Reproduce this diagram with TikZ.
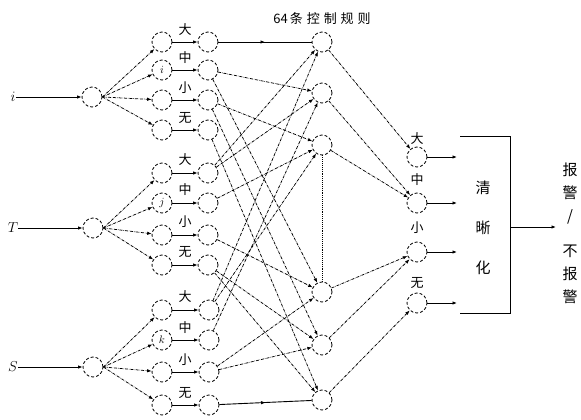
\documentclass[tikz,border=0pt]{standalone}
\usepackage{fontspec}
\newfontfamily\cjk{Noto Sans CJK SC}
\newfontfamily\cjkt{Noto Sans CJK SC}[LetterSpace=30]
\usetikzlibrary{arrows.meta,decorations.markings}
\begin{document}
\begin{tikzpicture}[x=1pt,y=-1pt,
  neuron/.style={circle,draw,densely dashed,minimum size=20pt,inner sep=0pt,line width=0.8pt,font=\fontsize{11}{11}\selectfont},
  conn/.style={densely dash dot,line width=0.75pt,-{Latex[length=4.5pt,width=3.5pt]}},
  solidarr/.style={line width=0.9pt,-{Latex[length=4.5pt,width=3.5pt]}},
  midarrow/.style={line width=0.9pt,postaction={decorate},decoration={markings,mark=at position 0.5 with {\arrow{Latex[length=4.5pt,width=3.5pt]}}}},
  lab/.style={font=\cjk\fontsize{13}{13}\selectfont,inner sep=0pt},
  inlab/.style={font=\fontsize{14}{14}\selectfont,inner sep=0pt},
]
\useasboundingbox (0,0) rectangle (581,420);

% input labels and neurons
\node[inlab] (li) at (13,97) {$i$};
\node[inlab] (lT) at (13,228) {$T$};
\node[inlab] (lS) at (13,367) {$S$};
\node[neuron] (ii) at (92,97) {};
\node[neuron] (iT) at (93,228) {};
\node[neuron] (iS) at (93,367) {};
\draw[solidarr] (li) -- (ii);
\draw[solidarr] (lT) -- (iT);
\draw[solidarr] (lS) -- (iS);

% fuzzification layer
\node[neuron] (a1) at (162,42) {};
\node[neuron] (a2) at (162,70) {$i$};
\node[neuron] (a3) at (162,100) {};
\node[neuron] (a4) at (162,130) {};
\node[neuron] (a5) at (162,173) {};
\node[neuron] (a6) at (162,203) {$j$};
\node[neuron] (a7) at (162,235) {};
\node[neuron] (a8) at (162,265) {};
\node[neuron] (a9) at (162,310) {};
\node[neuron] (a10) at (162,340) {$k$};
\node[neuron] (a11) at (162,372) {};
\node[neuron] (a12) at (162,405) {};
\node[neuron] (b1) at (208,42) {};
\node[neuron] (b2) at (208,70) {};
\node[neuron] (b3) at (208,100) {};
\node[neuron] (b4) at (208,130) {};
\node[neuron] (b5) at (208,173) {};
\node[neuron] (b6) at (208,203) {};
\node[neuron] (b7) at (208,235) {};
\node[neuron] (b8) at (208,265) {};
\node[neuron] (b9) at (209,310) {};
\node[neuron] (b10) at (209,340) {};
\node[neuron] (b11) at (209,372) {};
\node[neuron] (b12) at (209,405) {};

\node[lab] (t1) at (185,30) {大};
\node[lab] (t2) at (185,58) {中};
\node[lab] (t3) at (185,88) {小};
\node[lab] (t4) at (185,118) {无};
\node[lab] (t5) at (185,160) {大};
\node[lab] (t6) at (185,190) {中};
\node[lab] (t7) at (185,222) {小};
\node[lab] (t8) at (185,252) {无};
\node[lab] (t9) at (185,297) {大};
\node[lab] (t10) at (185,328) {中};
\node[lab] (t11) at (185,360) {小};
\node[lab] (t12) at (185,393) {无};

\foreach \k in {1,...,4} \draw[conn] (ii.east) -- (a\k);
\foreach \k in {5,...,8} \draw[conn] (iT.east) -- (a\k);
\foreach \k in {9,...,12} \draw[conn] (iS.east) -- (a\k);
\foreach \k in {1,...,12} \draw[solidarr] (a\k) -- (b\k);

% rule layer
\node[neuron] (r1) at (322,42) {};
\node[neuron] (r2) at (322,93) {};
\node[neuron] (r3) at (322,145) {};
\node[neuron] (r4) at (322,292) {};
\node[neuron] (r5) at (322,345) {};
\node[neuron] (r6) at (322,400) {};
\node[font=\fontsize{13}{13}\selectfont,inner sep=0pt] (title) at (322,19) {{\cjk 64}\,{\cjkt 条控制规则}};

\draw[midarrow] (b1) -- (r1);
\draw[midarrow] (b12) -- (r6);
\draw[conn] (b5) -- (r1);
\draw[conn] (b9) -- (r1);
\draw[conn] (b2) -- (r2);
\draw[conn] (b5) -- (r2);
\draw[conn] (b10) -- (r2);
\draw[conn] (b3) -- (r3);
\draw[conn] (b6) -- (r3);
\draw[conn] (b9) -- (r3);
\draw[conn] (b2) -- (r4);
\draw[conn] (b7) -- (r4);
\draw[conn] (b11) -- (r4);
\draw[conn] (b3) -- (r5);
\draw[conn] (b8) -- (r5);
\draw[conn] (b11) -- (r5);
\draw[conn] (b4) -- (r6);
\draw[conn] (b8) -- (r6);
\draw[densely dotted,line width=0.9pt] (r3) -- (r4);

% output layer
\node[neuron] (o1) at (417,157) {};
\node[neuron] (o2) at (417,203) {};
\node[neuron] (o3) at (417,252) {};
\node[neuron] (o4) at (417,303) {};
\node[lab] (u1) at (417,139) {大};
\node[lab] (u2) at (417,180) {中};
\node[lab] (u3) at (417,228) {小};
\node[lab] (u4) at (417,283) {无};
\draw[conn] (r1) -- (o1);
\draw[conn] (r2) -- (o2);
\draw[conn] (r3) -- (o2);
\draw[conn] (r4) -- (o3);
\draw[conn] (r5) -- (o3);
\draw[conn] (r6) -- (o4);

\coordinate (e1) at (457,157);
\coordinate (e2) at (457,203);
\coordinate (e3) at (457,252);
\coordinate (e4) at (457,303);
\draw[solidarr] (o1) -- (e1);
\draw[solidarr] (o2) -- (e2);
\draw[solidarr] (o3) -- (e3);
\draw[solidarr] (o4) -- (e4);

% defuzzification bracket
\coordinate (btl) at (460,136);
\coordinate (btr) at (510,136);
\coordinate (bbr) at (510,313);
\coordinate (bbl) at (460,313);
\draw[line width=1pt] (btl) -- (btr) -- (bbr) -- (bbl);
\node[font=\cjk\fontsize{15}{40}\selectfont,align=center,inner sep=0pt] (def) at (483,228) {清\\晰\\化};
\coordinate (bm) at (510,227);
\coordinate (fin) at (556,227);
\draw[solidarr] (bm) -- (fin);
\node[font=\cjk\fontsize{15}{23}\selectfont,align=center,inner sep=0pt] (res) at (570,233) {报\\警\\/\\[12pt]不\\报\\警};
\end{tikzpicture}
\end{document}
